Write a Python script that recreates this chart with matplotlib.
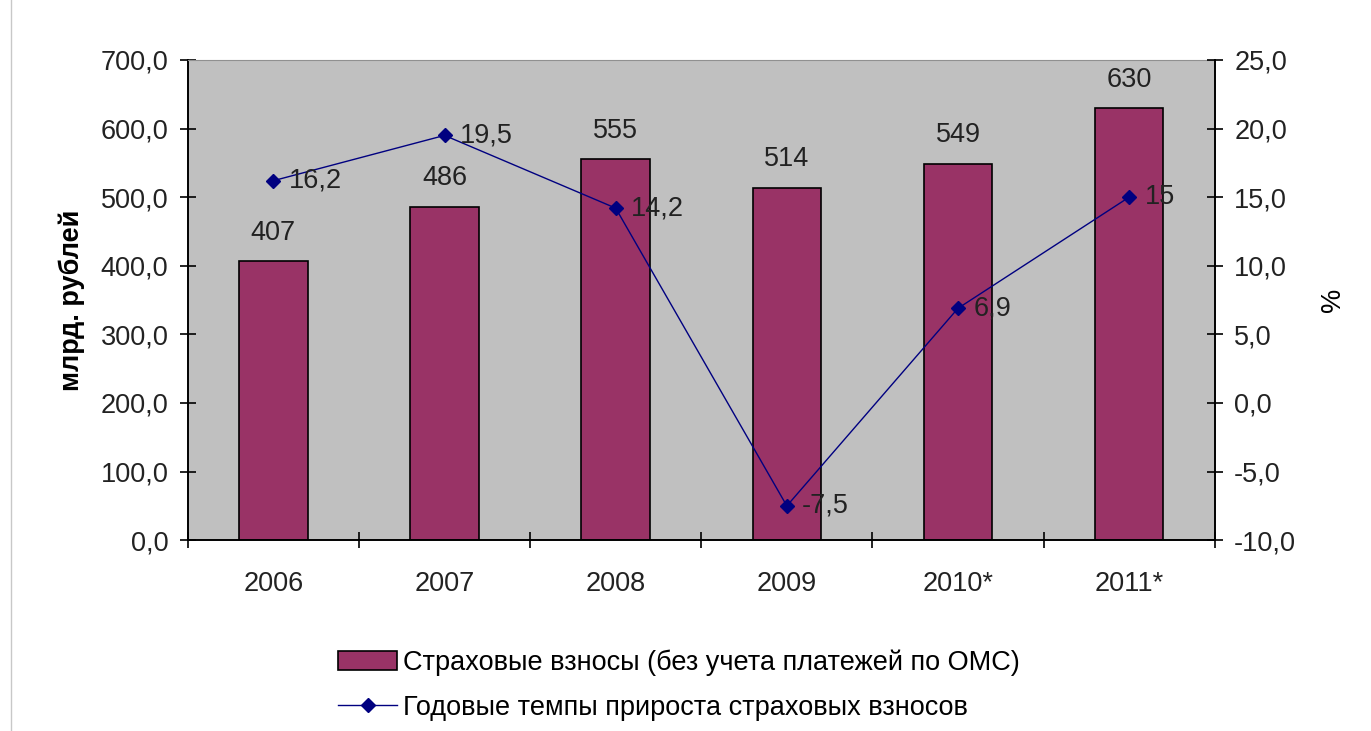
import matplotlib.pyplot as plt
import numpy as np
from matplotlib.lines import Line2D
from matplotlib.patches import Patch

plt.rcParams['font.family'] = ['Liberation Sans', 'DejaVu Sans']

years = ['2006', '2007', '2008', '2009', '2010*', '2011*']
vznosy = [407, 486, 555, 514, 549, 630]
prirost = [16.2, 19.5, 14.2, -7.5, 6.9, 15]
prirost_lbl = ['16,2', '19,5', '14,2', '-7,5', '6,9', '15']

fs = 19.5
tc = '#222222'

fig = plt.figure(figsize=(13.71, 7.31), dpi=100)
ax = fig.add_axes([0.137, 0.261, 0.749, 0.657])
ax.set_facecolor('#c0c0c0')

x = np.arange(len(years))
ax.bar(x, vznosy, width=0.4, color='#993366', edgecolor='black', linewidth=1.2, zorder=2)
for xi, v in zip(x, vznosy):
    ax.annotate(str(v), (xi, v), xytext=(0, 11), textcoords='offset points',
                ha='center', va='bottom', fontsize=fs, color=tc)

ax.set_xlim(-0.5, len(years) - 0.5)
ax.set_ylim(0, 700)
ax.set_yticks(np.arange(0, 701, 100))
ax.set_yticklabels([f'{v:.1f}'.replace('.', ',') for v in np.arange(0, 701, 100)], fontsize=fs, color=tc)
ax.set_xticks(x)
ax.set_xticklabels(years, fontsize=fs, color=tc)
ax.set_xticks(np.arange(-0.5, len(years)), minor=True)
ax.tick_params(axis='x', which='major', length=0, pad=22)
ax.tick_params(axis='x', which='minor', length=12, direction='inout', width=1.2)
ax.tick_params(axis='y', length=12, direction='inout', width=1.2, pad=8)
ax.set_ylabel('млрд. рублей', fontsize=fs, fontweight='bold', labelpad=11)
for s in ['left', 'bottom']:
    ax.spines[s].set_linewidth(1.4)
ax.spines['top'].set_color('#909090')
ax.spines['right'].set_visible(False)

ax2 = ax.twinx()
ax2.plot(x, prirost, color='#000080', linewidth=1, marker='D', markersize=7, zorder=3)
for xi, v, t in zip(x, prirost, prirost_lbl):
    ax2.annotate(t, (xi, v), xytext=(11, 0), textcoords='offset points',
                 ha='left', va='center', fontsize=fs, color=tc)
ax2.set_ylim(-10, 25)
ax2.set_yticks(np.arange(-10, 26, 5))
ax2.set_yticklabels([f'{v:.1f}'.replace('.', ',') for v in np.arange(-10, 26, 5)], fontsize=fs, color=tc)
ax2.tick_params(axis='y', length=12, direction='inout', width=1.2, pad=8)
ax2.set_ylabel('%', fontsize=fs, labelpad=17)
ax2.spines['right'].set_linewidth(1.4)
ax2.spines['top'].set_visible(False)
ax2.spines['left'].set_visible(False)
ax2.spines['bottom'].set_visible(False)

handles = [Patch(facecolor='#993366', edgecolor='black', linewidth=1.2),
           Line2D([0], [0], color='#000080', linewidth=1, marker='D', markersize=7)]
labels = ['Страховые взносы (без учета платежей по ОМС)', 'Годовые темпы прироста страховых взносов']
fig.legend(handles, labels, loc='center', bbox_to_anchor=(0.495, 0.063), frameon=False,
           fontsize=fs, handlelength=2.2, handletextpad=0.2, labelspacing=0.7)

fig.add_artist(Line2D([0.008, 0.008], [0, 1], color='#c8c8c8', linewidth=1, transform=fig.transFigure))

fig.savefig('out.png', dpi=100)
